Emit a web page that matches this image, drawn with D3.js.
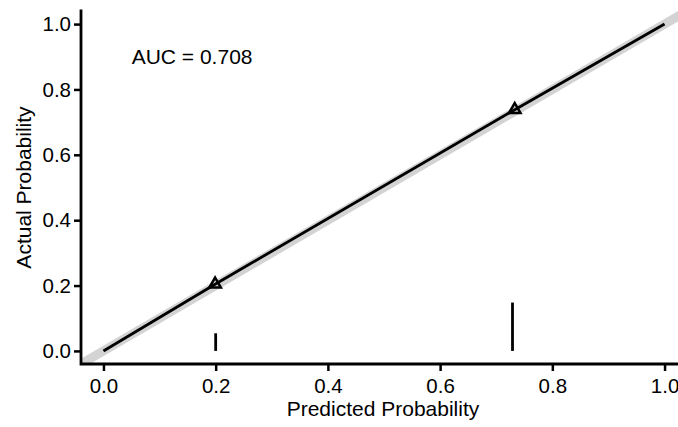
<!DOCTYPE html>
<html>
<head>
<meta charset="utf-8">
<script src="https://cdn.jsdelivr.net/npm/d3@7"></script>
<style>
  body { margin: 0; background: #fff; }
  text { font-family: "Liberation Sans", Arial, sans-serif; fill: #000; }
</style>
</head>
<body>
<script>
const width = 678;
const height = 427;

// calibration curve (predicted vs observed)
const lineX = [0, 0.199, 0.733, 1];
const lineY = [0, 0.204, 0.738, 1];
// group points (triangles)
const pointX = [0.199, 0.733];
const pointY = [0.204, 0.738];
// distribution spikes along the bottom
const spikeX = [0.2, 0.729];
const spikeH = [0.054, 0.148];
// ideal diagonal
const idealX = [-0.04, 1.04];
const tickValues = [0, 0.2, 0.4, 0.6, 0.8, 1.0];
const aucLabel = 'AUC = 0.708';
const xTitle = 'Predicted Probability';
const yTitle = 'Actual Probability';

const panel = { left: 81, right: 687, top: 11, bottom: 364 };

const svg = d3.select('body').append('svg')
    .attr('width', width)
    .attr('height', height);

const xScale = d3.scaleLinear()
    .domain([-0.04, 1.04])
    .range([panel.left, panel.right]);
const yScale = d3.scaleLinear()
    .domain([-0.04, 1.04])
    .range([panel.bottom, panel.top]);

svg.append('clipPath').attr('id', 'clip')
    .append('rect')
    .attr('x', panel.left).attr('y', panel.top)
    .attr('width', panel.right - panel.left)
    .attr('height', panel.bottom - panel.top);

const plot = svg.append('g').attr('clip-path', 'url(#clip)');

// ideal line
plot.append('path')
    .datum(idealX.map(v => [v, v]))
    .attr('d', d3.line().x(d => xScale(d[0])).y(d => yScale(d[1])))
    .attr('fill', 'none')
    .attr('stroke', '#d3d3d3')
    .attr('stroke-width', 9);

// calibration line
plot.append('path')
    .datum(lineX.map((v, i) => [v, lineY[i]]))
    .attr('d', d3.line().x(d => xScale(d[0])).y(d => yScale(d[1])))
    .attr('fill', 'none')
    .attr('stroke', '#000')
    .attr('stroke-width', 2.8);

// triangles
plot.selectAll('path.pt').data(pointX)
    .enter().append('path')
    .attr('class', 'pt')
    .attr('transform', (d, i) => `translate(${xScale(d)},${yScale(pointY[i])})`)
    .attr('d', d3.symbol().type(d3.symbolTriangle2).size(95))
    .attr('fill', 'none')
    .attr('stroke', '#000')
    .attr('stroke-width', 2.5);

// spikes
plot.selectAll('line.spike').data(spikeX)
    .enter().append('line')
    .attr('class', 'spike')
    .attr('x1', d => xScale(d)).attr('x2', d => xScale(d))
    .attr('y1', yScale(0))
    .attr('y2', (d, i) => yScale(spikeH[i]))
    .attr('stroke', '#000')
    .attr('stroke-width', 2.8);

// AUC label
svg.append('text')
    .attr('x', xScale(0.158))
    .attr('y', yScale(0.9))
    .attr('dy', '0.35em')
    .attr('text-anchor', 'middle')
    .style('font-size', '21px')
    .text(aucLabel);

// axes
const xAxis = d3.axisBottom(xScale)
    .tickValues(tickValues)
    .tickFormat(d3.format('.1f'))
    .tickSize(7).tickSizeOuter(0).tickPadding(7);
const yAxis = d3.axisLeft(yScale)
    .tickValues(tickValues)
    .tickFormat(d3.format('.1f'))
    .tickSize(7).tickSizeOuter(0).tickPadding(3);

const gx = svg.append('g')
    .attr('transform', `translate(0,${panel.bottom})`)
    .call(xAxis);
const gy = svg.append('g')
    .attr('transform', `translate(${panel.left},0)`)
    .call(yAxis);

[gx, gy].forEach(g => {
    g.select('.domain').remove();
    g.selectAll('.tick line').attr('stroke', '#000').attr('stroke-width', 2.5);
    g.selectAll('.tick text')
        .style('font-size', '20.5px')
        .style('font-family', '"Liberation Sans", Arial, sans-serif')
        .attr('fill', '#000');
});

svg.append('path')
    .attr('d', `M${panel.left},${panel.top}V${panel.bottom}H${panel.right}`)
    .attr('fill', 'none')
    .attr('stroke', '#000')
    .attr('stroke-width', 2.8)
    .attr('stroke-linecap', 'square');

// titles
svg.append('text')
    .attr('x', (xScale(-0.04) + xScale(1.04)) / 2 - 1)
    .attr('y', 416)
    .attr('text-anchor', 'middle')
    .style('font-size', '21px')
    .text(xTitle);

svg.append('text')
    .attr('transform', `translate(31,${(yScale(-0.04) + yScale(1.04)) / 2})rotate(-90)`)
    .attr('text-anchor', 'middle')
    .style('font-size', '21px')
    .text(yTitle);
</script>
</body>
</html>
